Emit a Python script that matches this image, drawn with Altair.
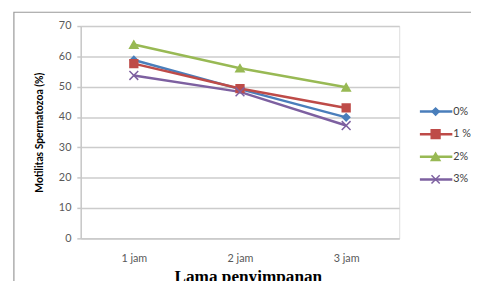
import altair as alt
import pandas as pd

categories = ["1 jam", "2 jam", "3 jam"]
series = ["0%", "1 %", "2%", "3%"]
values = {
    "0%": [58.8, 49.2, 39.9],
    "1 %": [57.6, 49.4, 43.0],
    "2%": [63.9, 56.1, 49.8],
    "3%": [53.7, 48.3, 37.2],
}
colors = ["#4a7ebb", "#be4b48", "#98b954", "#7d60a0"]
shapes = ["diamond", "square", "triangle-up", "M-1,-1L1,1M-1,1L1,-1"]
sizes = [55, 80, 80, 70]

rows = []
for s in series:
    for c, v in zip(categories, values[s]):
        rows.append({"series": s, "cat": c, "val": v})
df = pd.DataFrame(rows)

W, H = 324, 216
font = "Lato"

col_scale = alt.Scale(domain=series, range=colors)
shape_scale = alt.Scale(domain=series, range=shapes)
size_scale = alt.Scale(domain=series, range=sizes)

x = alt.X("cat:N", sort=categories, scale=alt.Scale(type="point", padding=0.5),
          axis=alt.Axis(title="Lama penyimpanan", labelAngle=0, ticks=False, grid=False,
                        labelPadding=15, labelFont=font, labelFontSize=11, labelColor="#595959",
                        domainColor="#c8c8c8", domainWidth=1.5,
                        titleFont="Liberation Serif", titleFontSize=17.5, titleFontWeight="bold",
                        titleColor="#000000", titleX=170, titleY=30, titleBaseline="top",
                        titleAlign="center"))
y = alt.Y("val:Q", scale=alt.Scale(domain=[0, 70], nice=False),
          axis=alt.Axis(title="Motilitas Spermatozoa (%)", values=list(range(0, 71, 10)),
                        grid=True, gridColor="#cccccc", gridWidth=1.5,
                        domain=True, domainColor="#c8c8c8", domainWidth=1.5,
                        tickColor="#c8c8c8", tickSize=4, tickWidth=1.5,
                        labelPadding=6, labelFont=font, labelFontSize=11, labelColor="#595959",
                        titleFont=font, titleFontSize=10.5, titleFontWeight="bold", titleColor="#000000",
                        titleX=-42, titleY=108, titleAngle=-90, titleAlign="center",
                        titleBaseline="middle"))

lines = alt.Chart(df).mark_line(strokeWidth=2.5).encode(
    x=x, y=y,
    color=alt.Color("series:N", scale=col_scale, legend=None),
    detail="series:N",
)
points = alt.Chart(df).mark_point(opacity=1, strokeWidth=1.5).encode(
    x=x, y=y,
    fill=alt.Fill("series:N", scale=col_scale, legend=None),
    stroke=alt.Stroke("series:N", scale=col_scale, legend=None),
    shape=alt.Shape("series:N", scale=shape_scale, legend=None),
    size=alt.Size("series:N", scale=size_scale, legend=None),
)

# manual legend (one small layer per series)
legend_layers = []
for i, s in enumerate(series):
    d = pd.DataFrame({"series": [s]})
    ypos = 87 + i * 23
    legend_layers.append(alt.Chart(d).mark_rule(strokeWidth=2.5, color=colors[i]).encode(
        x=alt.value(345), x2=alt.value(378), y=alt.value(ypos)))
    legend_layers.append(alt.Chart(d).mark_point(
        opacity=1, strokeWidth=1.5, fill=colors[i], stroke=colors[i],
        shape=shapes[i], size=sizes[i]).encode(x=alt.value(361), y=alt.value(ypos)))
    legend_layers.append(alt.Chart(d).mark_text(
        align="left", baseline="middle", font=font, fontSize=11, color="#404040").encode(
        x=alt.value(379), y=alt.value(ypos), text="series:N"))

one = pd.DataFrame({"a": [0]})
frame = alt.Chart(one).mark_rect(
    fill="transparent", stroke="#999999", strokeWidth=1.2,
).encode(x=alt.value(-68), x2=alt.value(430), y=alt.value(-14), y2=alt.value(300))

chart = alt.layer(frame, lines, points, *legend_layers).properties(
    width=W, height=H,
    autosize=alt.AutoSizeParams(type="none"),
    padding={"left": 74, "top": 16, "right": 73, "bottom": 41},
).configure_view(strokeOpacity=0, strokeWidth=0).configure(background="white")

chart.save("out.html", embed_options={"renderer": "svg", "actions": False})
